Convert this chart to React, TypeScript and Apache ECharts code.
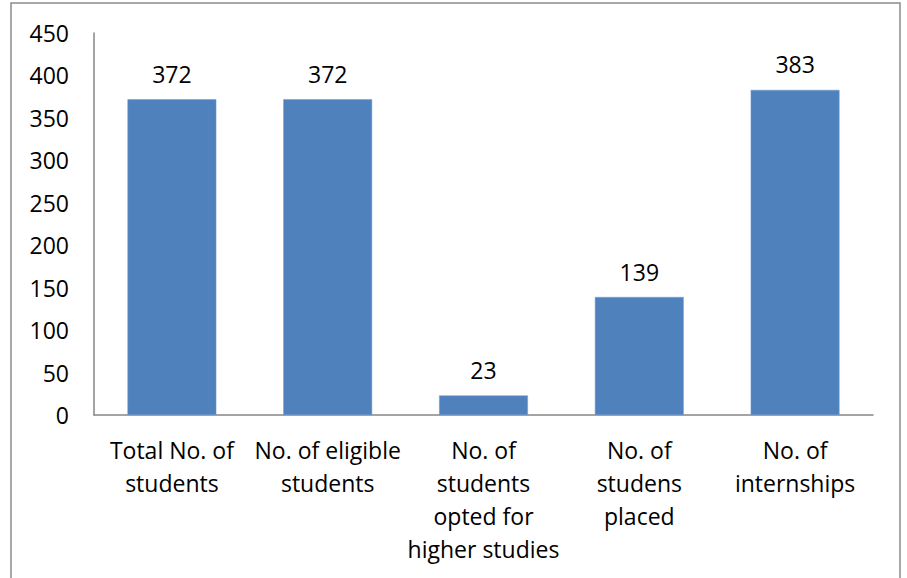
import React, { useEffect, useRef } from "react";
import * as echarts from "echarts";

const categories = [
  "Total No. of\nstudents",
  "No. of eligible\nstudents",
  "No. of\nstudents\nopted for\nhigher studies",
  "No. of\nstudens\nplaced",
  "No. of\ninternships",
];
const values = [372, 372, 23, 139, 383];
const yTicks = { min: 0, max: 450, interval: 50 };

const FONT = "'Open Sans', 'Noto Sans', sans-serif";

export default function App() {
  const ref = useRef<HTMLDivElement>(null);
  useEffect(() => {
    if (!ref.current) return;
    const chart = echarts.init(ref.current, null, { renderer: "svg" });
    chart.setOption({
      animation: false,
      backgroundColor: "#ffffff",
      graphic: [
        {
          type: "rect",
          shape: { x: 11, y: 3, width: 889, height: 600 },
          style: { fill: "none", stroke: "#8c8c8c", lineWidth: 1.5 },
          silent: true,
        },
      ],
      grid: { left: 94, right: 34, top: 33, bottom: 163 },
      xAxis: {
        type: "category",
        data: categories,
        axisLine: { show: true, lineStyle: { color: "#868686", width: 1.5 } },
        axisTick: { show: false },
        axisLabel: {
          interval: 0,
          margin: 18,
          color: "#000000",
          fontFamily: FONT,
          fontSize: 23,
          lineHeight: 33,
        },
      },
      yAxis: {
        type: "value",
        min: yTicks.min,
        max: yTicks.max,
        interval: yTicks.interval,
        splitLine: { show: false },
        axisLine: { show: true, lineStyle: { color: "#868686", width: 1.5 } },
        axisTick: { show: false },
        axisLabel: {
          margin: 25,
          color: "#000000",
          fontFamily: FONT,
          fontSize: 23,
        },
      },
      series: [
        {
          type: "bar",
          data: values,
          barWidth: "57%",
          itemStyle: { color: "#4f81bd", borderColor: "#6f9bd0", borderWidth: 0.5 },
          label: {
            show: true,
            position: "top",
            distance: 14,
            color: "#000000",
            fontFamily: FONT,
            fontSize: 23,
          },
        },
      ],
    });
    return () => chart.dispose();
  }, []);
  return (
    <div
      ref={ref}
      style={{ position: "absolute", left: 0, top: 0, width: 907, height: 578 }}
    />
  );
}
